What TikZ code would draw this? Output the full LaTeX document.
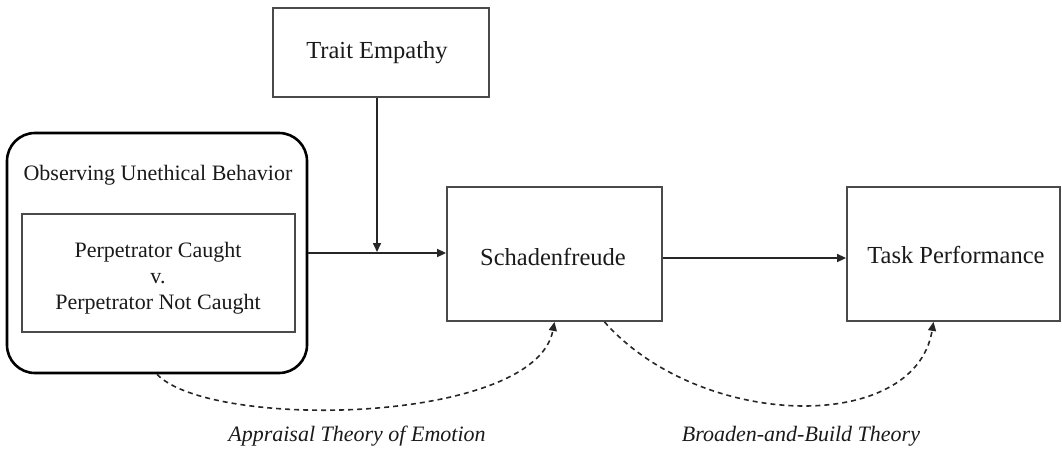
\documentclass[tikz,border=0pt]{standalone}
\usepackage{fontspec}
\setmainfont{Liberation Serif}
\usetikzlibrary{arrows.meta}
\definecolor{boxline}{HTML}{4A4A4A}
\definecolor{txt}{HTML}{1A1A1A}
\tikzset{
  plainbox/.style={draw=boxline, line width=1.8pt, inner sep=0pt, text=txt},
  bigtext/.style={font=\fontsize{24.5}{29}\selectfont},
  midtext/.style={font=\fontsize{22}{26.5}\selectfont},
  conn/.style={draw=black!85, line width=1.6pt, -{Triangle[length=9pt,width=8pt]}},
  dconn/.style={draw=black!85, line width=1.6pt, dash pattern=on 5pt off 4pt, -{Triangle[length=9pt,width=8pt]}},
  theory/.style={font=\fontsize{22}{26}\selectfont\itshape, text=txt}
}
\begin{document}
\begin{tikzpicture}[x=1pt,y=-1pt]
\useasboundingbox (0,0) rectangle (1062,448);
% boxes
\node[plainbox, minimum width=216pt, minimum height=89pt] (trait) at (381,52.5) {};
\node[bigtext, text=txt] (traitlbl) at (377,53) {Trait Empathy};
\node[draw=black, line width=2.6pt, rounded corners=28pt, minimum width=300pt, minimum height=240pt] (outer) at (157,253) {};
\node[midtext, text=txt] (obslbl) at (158,175) {Observing Unethical Behavior};
\node[plainbox, minimum width=273pt, minimum height=118pt] (inner) at (158.5,273) {};
\node[midtext, text=txt, align=center] (innerlbl) at (158,278) {Perpetrator Caught\\[-0.5pt]v.\\[-0.5pt]Perpetrator Not Caught};
\node[plainbox, minimum width=215pt, minimum height=134pt] (schad) at (554.5,254) {};
\node[bigtext, text=txt] (schadlbl) at (553,257) {Schadenfreude};
\node[plainbox, minimum width=213pt, minimum height=134pt] (task) at (953.5,254) {};
\node[bigtext, text=txt] (tasklbl) at (956,255) {Task Performance};
% connectors
\coordinate (join) at (377,253);
\draw[draw=black!85, line width=1.6pt] (outer.east |- join) -- (join);
\draw[conn] (join) -- (join -| schad.west);
\draw[conn] (trait.south -| join) -- ([yshift=1pt]join);
\draw[conn] ([yshift=-4pt]schad.east) -- ([yshift=-4pt]schad.east -| task.west);
\draw[dconn] (outer.south) .. controls (210,430) and (535,425) .. (schad.south);
\draw[dconn] ([xshift=50pt]schad.south) .. controls (700,430) and (915,435) .. ([xshift=-20pt]task.south);
% theory labels
\node[theory] (appraisal) at (357,436) {Appraisal Theory of Emotion};
\node[theory] (broaden) at (801,436) {Broaden-and-Build Theory};
\end{tikzpicture}
\end{document}
